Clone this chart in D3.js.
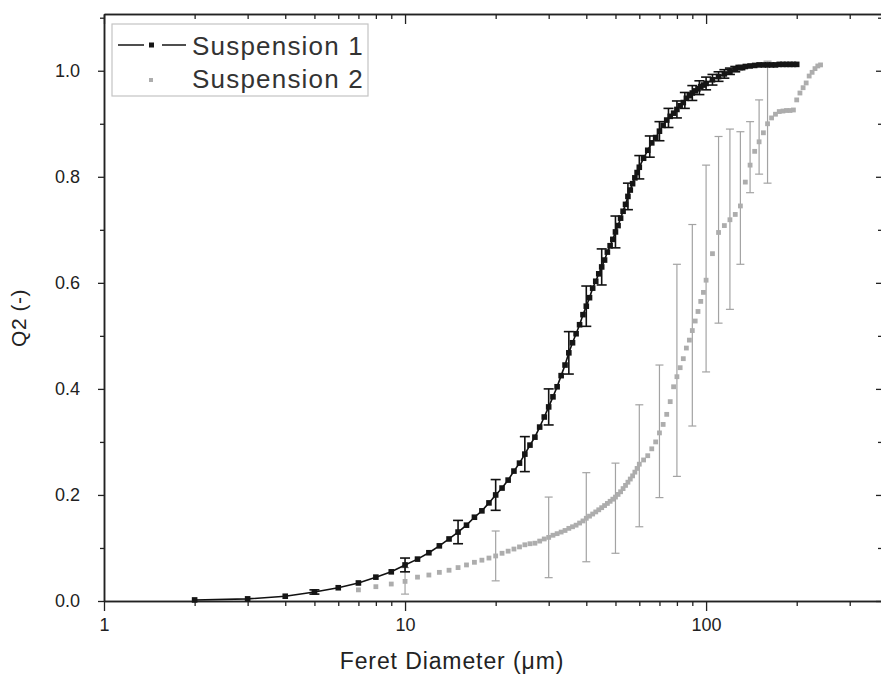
<!DOCTYPE html>
<html>
<head>
<meta charset="utf-8">
<script src="https://cdn.jsdelivr.net/npm/d3@7"></script>
<style>
    body { margin: 0; background: #fff; }
    svg text { font-family: "Liberation Sans", Arial, sans-serif; }
</style>
</head>
<body>
<svg id="chart" width="881" height="688"></svg>
<script>
// Suspension 1 (black squares + line)
var s1Diam = [2, 3, 4, 5, 6, 7, 8, 9, 10, 11, 12, 13, 14, 15, 16, 17, 18, 19, 20,
    21, 22, 23, 24, 25, 26, 27, 28, 29, 30, 31, 32, 33, 34, 35, 36, 37, 38, 39, 40,
    41, 42, 43, 44, 45, 46, 47, 48, 49, 50, 51, 52, 53, 54, 55, 56, 57, 58, 59, 60,
    62, 64, 66, 68, 70, 72, 74, 76, 78, 80, 82, 84, 86, 88, 90, 92, 94, 96, 98, 100,
    105, 110, 115, 120, 125, 130, 135, 140, 145, 150, 155, 160, 165, 170, 175, 180, 185, 190, 195, 200];
var s1Q = [0.002, 0.004, 0.009, 0.017, 0.025, 0.034, 0.045, 0.055, 0.068, 0.079, 0.091, 0.104, 0.117, 0.130, 0.143, 0.158, 0.170, 0.185, 0.200,
    0.213, 0.228, 0.245, 0.260, 0.277, 0.294, 0.309, 0.328, 0.347, 0.366, 0.385, 0.404, 0.425, 0.445, 0.468, 0.487, 0.504, 0.521, 0.540, 0.556,
    0.572, 0.590, 0.603, 0.617, 0.630, 0.643, 0.658, 0.670, 0.682, 0.696, 0.708, 0.722, 0.735, 0.748, 0.763, 0.775, 0.787, 0.798, 0.808, 0.818,
    0.835, 0.850, 0.864, 0.874, 0.886, 0.897, 0.907, 0.914, 0.920, 0.927, 0.934, 0.940, 0.948, 0.953, 0.958, 0.962, 0.966, 0.970, 0.973, 0.976,
    0.983, 0.989, 0.994, 0.999, 1.003, 1.006, 1.008, 1.009, 1.010, 1.011, 1.011, 1.011, 1.011, 1.011, 1.012, 1.012, 1.012, 1.012, 1.012, 1.012];
var s1ErrDiam = [5, 10, 15, 20, 25, 30, 35, 40, 45, 50, 55, 60, 65, 70, 75, 80, 85, 90, 95, 100, 105, 110, 115, 120, 125, 130];
var s1ErrMid = [0.017, 0.068, 0.130, 0.200, 0.277, 0.366, 0.468, 0.556, 0.630, 0.696, 0.763, 0.818, 0.857, 0.886, 0.911, 0.927, 0.944, 0.958, 0.968, 0.976, 0.983, 0.989, 0.994, 0.999, 1.003, 1.006];
var s1ErrHalf = [0.004, 0.013, 0.022, 0.029, 0.033, 0.034, 0.040, 0.038, 0.034, 0.030, 0.025, 0.022, 0.020, 0.018, 0.018, 0.016, 0.015, 0.014, 0.013, 0.012, 0.010, 0.009, 0.008, 0.006, 0.005, 0.004];

// Suspension 2 (grey squares)
var s2Diam = [7, 8, 9, 10, 11, 12, 13, 14, 15, 16, 17, 18, 19, 20,
    21, 22, 23, 24, 25, 26, 27, 28, 29, 30, 31, 32, 33, 34, 35, 36, 37, 38, 39, 40,
    41, 42, 43, 44, 45, 46, 47, 48, 49, 50, 51, 52, 53, 54, 55, 56, 57, 58, 59, 60,
    62, 64, 66, 68, 70, 72, 74, 76, 78, 80, 82, 84, 86, 88, 90, 92, 94, 96, 98, 100,
    105, 110, 115, 120, 125, 130, 135, 140, 145, 150, 155, 160, 165, 170, 175, 180, 185, 190, 195,
    200, 205, 210, 215, 220, 225, 230, 235, 240];
var s2Q = [0.021, 0.027, 0.032, 0.037, 0.045, 0.049, 0.054, 0.058, 0.063, 0.068, 0.073, 0.077, 0.081, 0.085,
    0.090, 0.094, 0.098, 0.102, 0.106, 0.108, 0.109, 0.113, 0.117, 0.120, 0.124, 0.127, 0.130, 0.133, 0.137, 0.140, 0.143, 0.147, 0.151, 0.156,
    0.160, 0.164, 0.168, 0.172, 0.176, 0.180, 0.184, 0.188, 0.192, 0.196, 0.201, 0.206, 0.212, 0.218, 0.224, 0.230, 0.236, 0.243, 0.250, 0.258,
    0.266, 0.274, 0.287, 0.300, 0.317, 0.333, 0.352, 0.376, 0.404, 0.423, 0.440, 0.457, 0.477, 0.492, 0.510, 0.528, 0.546, 0.565, 0.582, 0.605,
    0.655, 0.695, 0.708, 0.719, 0.729, 0.745, 0.790, 0.822, 0.848, 0.866, 0.883, 0.900, 0.911, 0.918, 0.923, 0.924, 0.925, 0.925, 0.926,
    0.945, 0.958, 0.968, 0.977, 0.990, 0.997, 1.004, 1.009, 1.011];
var s2ErrDiam = [10, 20, 30, 40, 50, 60, 70, 80, 90, 100, 110, 120, 130, 140, 150, 160];
var s2ErrMid = [0.038, 0.085, 0.120, 0.158, 0.175, 0.255, 0.320, 0.435, 0.520, 0.627, 0.700, 0.720, 0.760, 0.837, 0.875, 0.903];
var s2ErrHalf = [0.025, 0.047, 0.076, 0.084, 0.085, 0.115, 0.125, 0.200, 0.190, 0.195, 0.176, 0.170, 0.125, 0.067, 0.070, 0.115];

// axis ticks
var xMajor = [1, 10, 100];
var xMinor = [2, 3, 4, 5, 6, 7, 8, 9, 20, 30, 40, 50, 60, 70, 80, 90, 200, 300];
var yMajor = [0, 0.2, 0.4, 0.6, 0.8, 1.0];
var yMinor = [0.1, 0.3, 0.5, 0.7, 0.9, 1.1];

var seriesNames = ["Suspension 1", "Suspension 2"];

var svg = d3.select("#chart");
var plotLeft = 104, plotRight = 882, plotTop = 14, plotBottom = 601;

var x = d3.scaleLog().domain([1, 384]).range([plotLeft, plotRight]);
var y = d3.scaleLinear().domain([0, 1.107]).range([plotBottom, plotTop]);

function styleAxis(g) {
    g.selectAll("path").attr("stroke", "#222").attr("stroke-width", 1.5);
    g.selectAll("line").attr("stroke", "#222").attr("stroke-width", 1.3);
    g.selectAll("text").attr("fill", "#222").attr("font-size", "18px");
}

// bottom axis (ticks outward)
svg.append("g").attr("transform", "translate(0," + plotBottom + ")")
    .call(d3.axisBottom(x).tickValues(xMajor).tickSize(10).tickSizeOuter(0).tickPadding(7)
        .tickFormat(d3.format("d")))
    .call(styleAxis);
svg.append("g").attr("transform", "translate(0," + plotBottom + ")")
    .call(d3.axisBottom(x).tickValues(xMinor).tickSize(5).tickSizeOuter(0).tickFormat(""))
    .call(styleAxis);

// top axis (ticks inward)
svg.append("g").attr("transform", "translate(0," + plotTop + ")")
    .call(d3.axisBottom(x).tickValues(xMajor).tickSize(10).tickSizeOuter(0).tickFormat(""))
    .call(styleAxis);
svg.append("g").attr("transform", "translate(0," + plotTop + ")")
    .call(d3.axisBottom(x).tickValues(xMinor).tickSize(5).tickSizeOuter(0).tickFormat(""))
    .call(styleAxis);

// left axis (ticks outward)
svg.append("g").attr("transform", "translate(" + plotLeft + ",0)")
    .call(d3.axisLeft(y).tickValues(yMajor).tickSize(6).tickSizeOuter(0).tickPadding(18)
        .tickFormat(d3.format(".1f")))
    .call(styleAxis);
svg.append("g").attr("transform", "translate(" + plotLeft + ",0)")
    .call(d3.axisLeft(y).tickValues(yMinor).tickSize(4).tickSizeOuter(0).tickFormat(""))
    .call(styleAxis);

// right axis (ticks inward)
svg.append("g").attr("transform", "translate(" + plotRight + ",0)")
    .call(d3.axisLeft(y).tickValues(yMajor).tickSize(6).tickSizeOuter(0).tickFormat(""))
    .call(styleAxis);
svg.append("g").attr("transform", "translate(" + plotRight + ",0)")
    .call(d3.axisLeft(y).tickValues(yMinor).tickSize(4).tickSizeOuter(0).tickFormat(""))
    .call(styleAxis);

// axis titles
svg.append("text")
    .attr("x", 452).attr("y", 669)
    .attr("text-anchor", "middle")
    .attr("font-size", "23px")
    .attr("letter-spacing", "0.9px")
    .attr("fill", "#222")
    .text("Feret Diameter (\u03bcm)");

svg.append("text")
    .attr("transform", "translate(26,318) rotate(-90)")
    .attr("text-anchor", "middle")
    .attr("font-size", "21px")
    .attr("letter-spacing", "0.5px")
    .attr("fill", "#222")
    .text("Q2 (-)");

var plot = svg.append("g");

// Suspension 2 error bars (grey)
var s2Err = s2ErrDiam.map(function (d, i) { return {d: d, m: s2ErrMid[i], e: s2ErrHalf[i]}; });
var errG2 = plot.selectAll("g.err2").data(s2Err).enter().append("g")
    .attr("class", "err2")
    .attr("stroke", "#a3a3a3").attr("stroke-width", 1.2);
errG2.append("line")
    .attr("x1", function (d) { return x(d.d); }).attr("x2", function (d) { return x(d.d); })
    .attr("y1", function (d) { return y(d.m - d.e); }).attr("y2", function (d) { return y(d.m + d.e); });
errG2.append("line")
    .attr("x1", function (d) { return x(d.d) - 4; }).attr("x2", function (d) { return x(d.d) + 4; })
    .attr("y1", function (d) { return y(d.m - d.e); }).attr("y2", function (d) { return y(d.m - d.e); });
errG2.append("line")
    .attr("x1", function (d) { return x(d.d) - 4; }).attr("x2", function (d) { return x(d.d) + 4; })
    .attr("y1", function (d) { return y(d.m + d.e); }).attr("y2", function (d) { return y(d.m + d.e); });

// Suspension 2 points
var s2 = s2Diam.map(function (d, i) { return {d: d, q: s2Q[i]}; });
plot.selectAll("rect.s2").data(s2).enter().append("rect")
    .attr("class", "s2")
    .attr("x", function (d) { return x(d.d) - 2.4; })
    .attr("y", function (d) { return y(d.q) - 2.4; })
    .attr("width", 4.8).attr("height", 4.8)
    .attr("fill", "#adadad");

// Suspension 1 line
var s1 = s1Diam.map(function (d, i) { return {d: d, q: s1Q[i]}; });
plot.append("path").datum(s1)
    .attr("fill", "none").attr("stroke", "#111").attr("stroke-width", 1.6)
    .attr("d", d3.line().x(function (d) { return x(d.d); }).y(function (d) { return y(d.q); }));

// Suspension 1 error bars
var s1Err = s1ErrDiam.map(function (d, i) { return {d: d, m: s1ErrMid[i], e: s1ErrHalf[i]}; });
var errG1 = plot.selectAll("g.err1").data(s1Err).enter().append("g")
    .attr("class", "err1")
    .attr("stroke", "#111").attr("stroke-width", 1.6);
errG1.append("line")
    .attr("x1", function (d) { return x(d.d); }).attr("x2", function (d) { return x(d.d); })
    .attr("y1", function (d) { return y(d.m - d.e); }).attr("y2", function (d) { return y(d.m + d.e); });
errG1.append("line")
    .attr("x1", function (d) { return x(d.d) - 5; }).attr("x2", function (d) { return x(d.d) + 5; })
    .attr("y1", function (d) { return y(d.m - d.e); }).attr("y2", function (d) { return y(d.m - d.e); });
errG1.append("line")
    .attr("x1", function (d) { return x(d.d) - 5; }).attr("x2", function (d) { return x(d.d) + 5; })
    .attr("y1", function (d) { return y(d.m + d.e); }).attr("y2", function (d) { return y(d.m + d.e); });

// Suspension 1 points
plot.selectAll("rect.s1").data(s1).enter().append("rect")
    .attr("class", "s1")
    .attr("x", function (d) { return x(d.d) - 2.8; })
    .attr("y", function (d) { return y(d.q) - 2.8; })
    .attr("width", 5.6).attr("height", 5.6)
    .attr("fill", "#151515");

// legend
var legend = svg.append("g");
legend.append("rect")
    .attr("x", 112).attr("y", 24).attr("width", 256).attr("height", 72)
    .attr("fill", "#fff").attr("stroke", "#c4c4c4").attr("stroke-width", 1.2);
legend.append("line").attr("x1", 118).attr("x2", 144).attr("y1", 45).attr("y2", 45)
    .attr("stroke", "#222").attr("stroke-width", 1.6);
legend.append("line").attr("x1", 162).attr("x2", 186).attr("y1", 45).attr("y2", 45)
    .attr("stroke", "#222").attr("stroke-width", 1.6);
legend.append("rect").attr("x", 149).attr("y", 42.5).attr("width", 5).attr("height", 5).attr("fill", "#151515");
legend.append("rect").attr("x", 149).attr("y", 78).attr("width", 4).attr("height", 4).attr("fill", "#adadad");
legend.selectAll("text.leg").data(seriesNames).enter().append("text")
    .attr("class", "leg")
    .attr("x", 192)
    .attr("y", function (d, i) { return 55 + i * 33; })
    .attr("font-size", "26px")
    .attr("letter-spacing", "1.2px")
    .attr("fill", "#333")
    .text(function (d) { return d; });
</script>
</body>
</html>
